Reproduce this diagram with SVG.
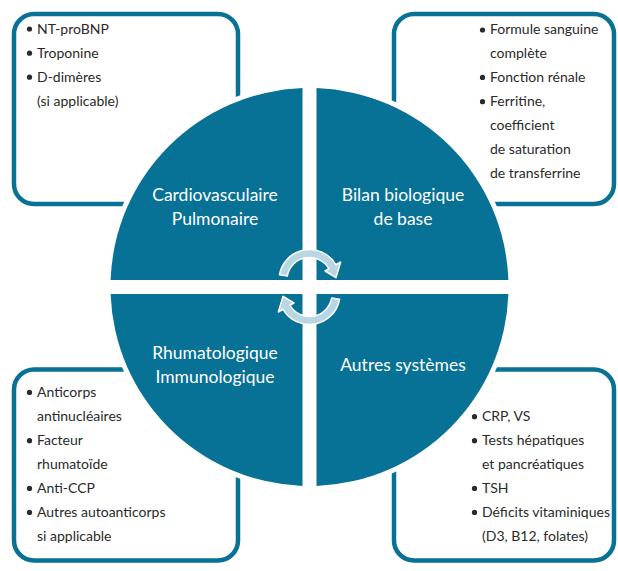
<svg xmlns="http://www.w3.org/2000/svg" width="618" height="571" viewBox="0 0 618 571">
<style>
.box{fill:#ffffff;stroke:#077196;stroke-width:4.5}
.q{fill:#077196}
.t{font-family:Lato,"Open Sans",sans-serif;font-size:14px;fill:#2a2a2a}
.h{font-family:Lato,"Open Sans",sans-serif;font-size:17.5px;fill:#ffffff;text-anchor:middle}
.b{fill:#2a2a2a}
.arr{fill:#b9d6e3;stroke:#ffffff;stroke-width:1.5;stroke-linejoin:round}
</style>
<defs>
<path id="arrow" d="M279.46,274.70 A30.5,30.5 0 0 1 335.91,264.75 L340.68,262 L335.9,277.69 L325.09,271 L328.99,268.75 A22.5,22.5 0 0 0 287.34,276.09 Z"/>
</defs>
<rect width="618" height="571" fill="#ffffff"/>
<g id="box-cardio">
<rect class="box" x="14" y="14" width="224" height="190" rx="20"/>
<circle class="b" cx="29.5" cy="29" r="2.6"/><text class="t" x="37" y="33.5">NT-proBNP</text>
<circle class="b" cx="29.5" cy="53.2" r="2.6"/><text class="t" x="37" y="57.7">Troponine</text>
<circle class="b" cx="29.5" cy="77.2" r="2.6"/><text class="t" x="37" y="81.7">D-dimères</text>
<text class="t" x="37" y="106">(si applicable)</text>
</g>
<g id="box-bilan">
<rect class="box" x="394" y="14" width="220" height="190" rx="20"/>
<circle class="b" cx="482.5" cy="30" r="2.6"/><text class="t" x="490" y="34.3">Formule sanguine</text>
<text class="t" x="490" y="58.3">complète</text>
<circle class="b" cx="482.5" cy="77.4" r="2.6"/><text class="t" x="490" y="81.7">Fonction rénale</text>
<circle class="b" cx="482.5" cy="101.7" r="2.6"/><text class="t" x="490" y="106">Ferritine,</text>
<text class="t" x="490" y="130">coefficient</text>
<text class="t" x="490" y="154">de saturation</text>
<text class="t" x="490" y="177.7">de transferrine</text>
</g>
<g id="box-rhumato">
<rect class="box" x="14" y="369.5" width="224" height="191" rx="20"/>
<circle class="b" cx="29.5" cy="392.4" r="2.6"/><text class="t" x="37" y="396.7">Anticorps</text>
<text class="t" x="37" y="421">antinucléaires</text>
<circle class="b" cx="29.5" cy="440.7" r="2.6"/><text class="t" x="37" y="445">Facteur</text>
<text class="t" x="37" y="469">rhumatoïde</text>
<circle class="b" cx="29.5" cy="488.4" r="2.6"/><text class="t" x="37" y="492.7">Anti-CCP</text>
<circle class="b" cx="29.5" cy="512.4" r="2.6"/><text class="t" x="37" y="516.7">Autres autoanticorps</text>
<text class="t" x="37" y="540.7">si applicable</text>
</g>
<g id="box-autres">
<rect class="box" x="394" y="369.5" width="220" height="191" rx="20"/>
<circle class="b" cx="474.5" cy="416.7" r="2.6"/><text class="t" x="482" y="421">CRP, VS</text>
<circle class="b" cx="474.5" cy="440.7" r="2.6"/><text class="t" x="482" y="445">Tests hépatiques</text>
<text class="t" x="482" y="469">et pancréatiques</text>
<circle class="b" cx="474.5" cy="488.4" r="2.6"/><text class="t" x="482" y="492.7">TSH</text>
<circle class="b" cx="474.5" cy="512.4" r="2.6"/><text class="t" x="482" y="516.7">Déficits vitaminiques</text>
<text class="t" x="482" y="540.7">(D3, B12, folates)</text>
</g>
<circle cx="309.5" cy="287" r="204" fill="#ffffff"/>
<g id="q-cardio">
<path class="q" d="M302.5,280 V88.12 A199,199 0 0 0 110.62,280 Z"/>
<text class="h" x="215" y="200.7">Cardiovasculaire</text>
<text class="h" x="215" y="225">Pulmonaire</text>
</g>
<g id="q-bilan">
<path class="q" d="M316.5,280 H508.38 A199,199 0 0 0 316.5,88.12 Z"/>
<text class="h" x="403" y="200.7">Bilan biologique</text>
<text class="h" x="403" y="225">de base</text>
</g>
<g id="q-rhumato">
<path class="q" d="M302.5,294 H110.62 A199,199 0 0 0 302.5,485.88 Z"/>
<text class="h" x="215" y="359.3">Rhumatologique</text>
<text class="h" x="215" y="383.3">Immunologique</text>
</g>
<g id="q-autres">
<path class="q" d="M316.5,294 V485.88 A199,199 0 0 0 508.38,294 Z"/>
<text class="h" x="403" y="371">Autres systèmes</text>
</g>
<g id="connectors">
<use href="#arrow" class="arr"/>
<use href="#arrow" class="arr" transform="rotate(180 309.5 287)"/>
</g>
</svg>
